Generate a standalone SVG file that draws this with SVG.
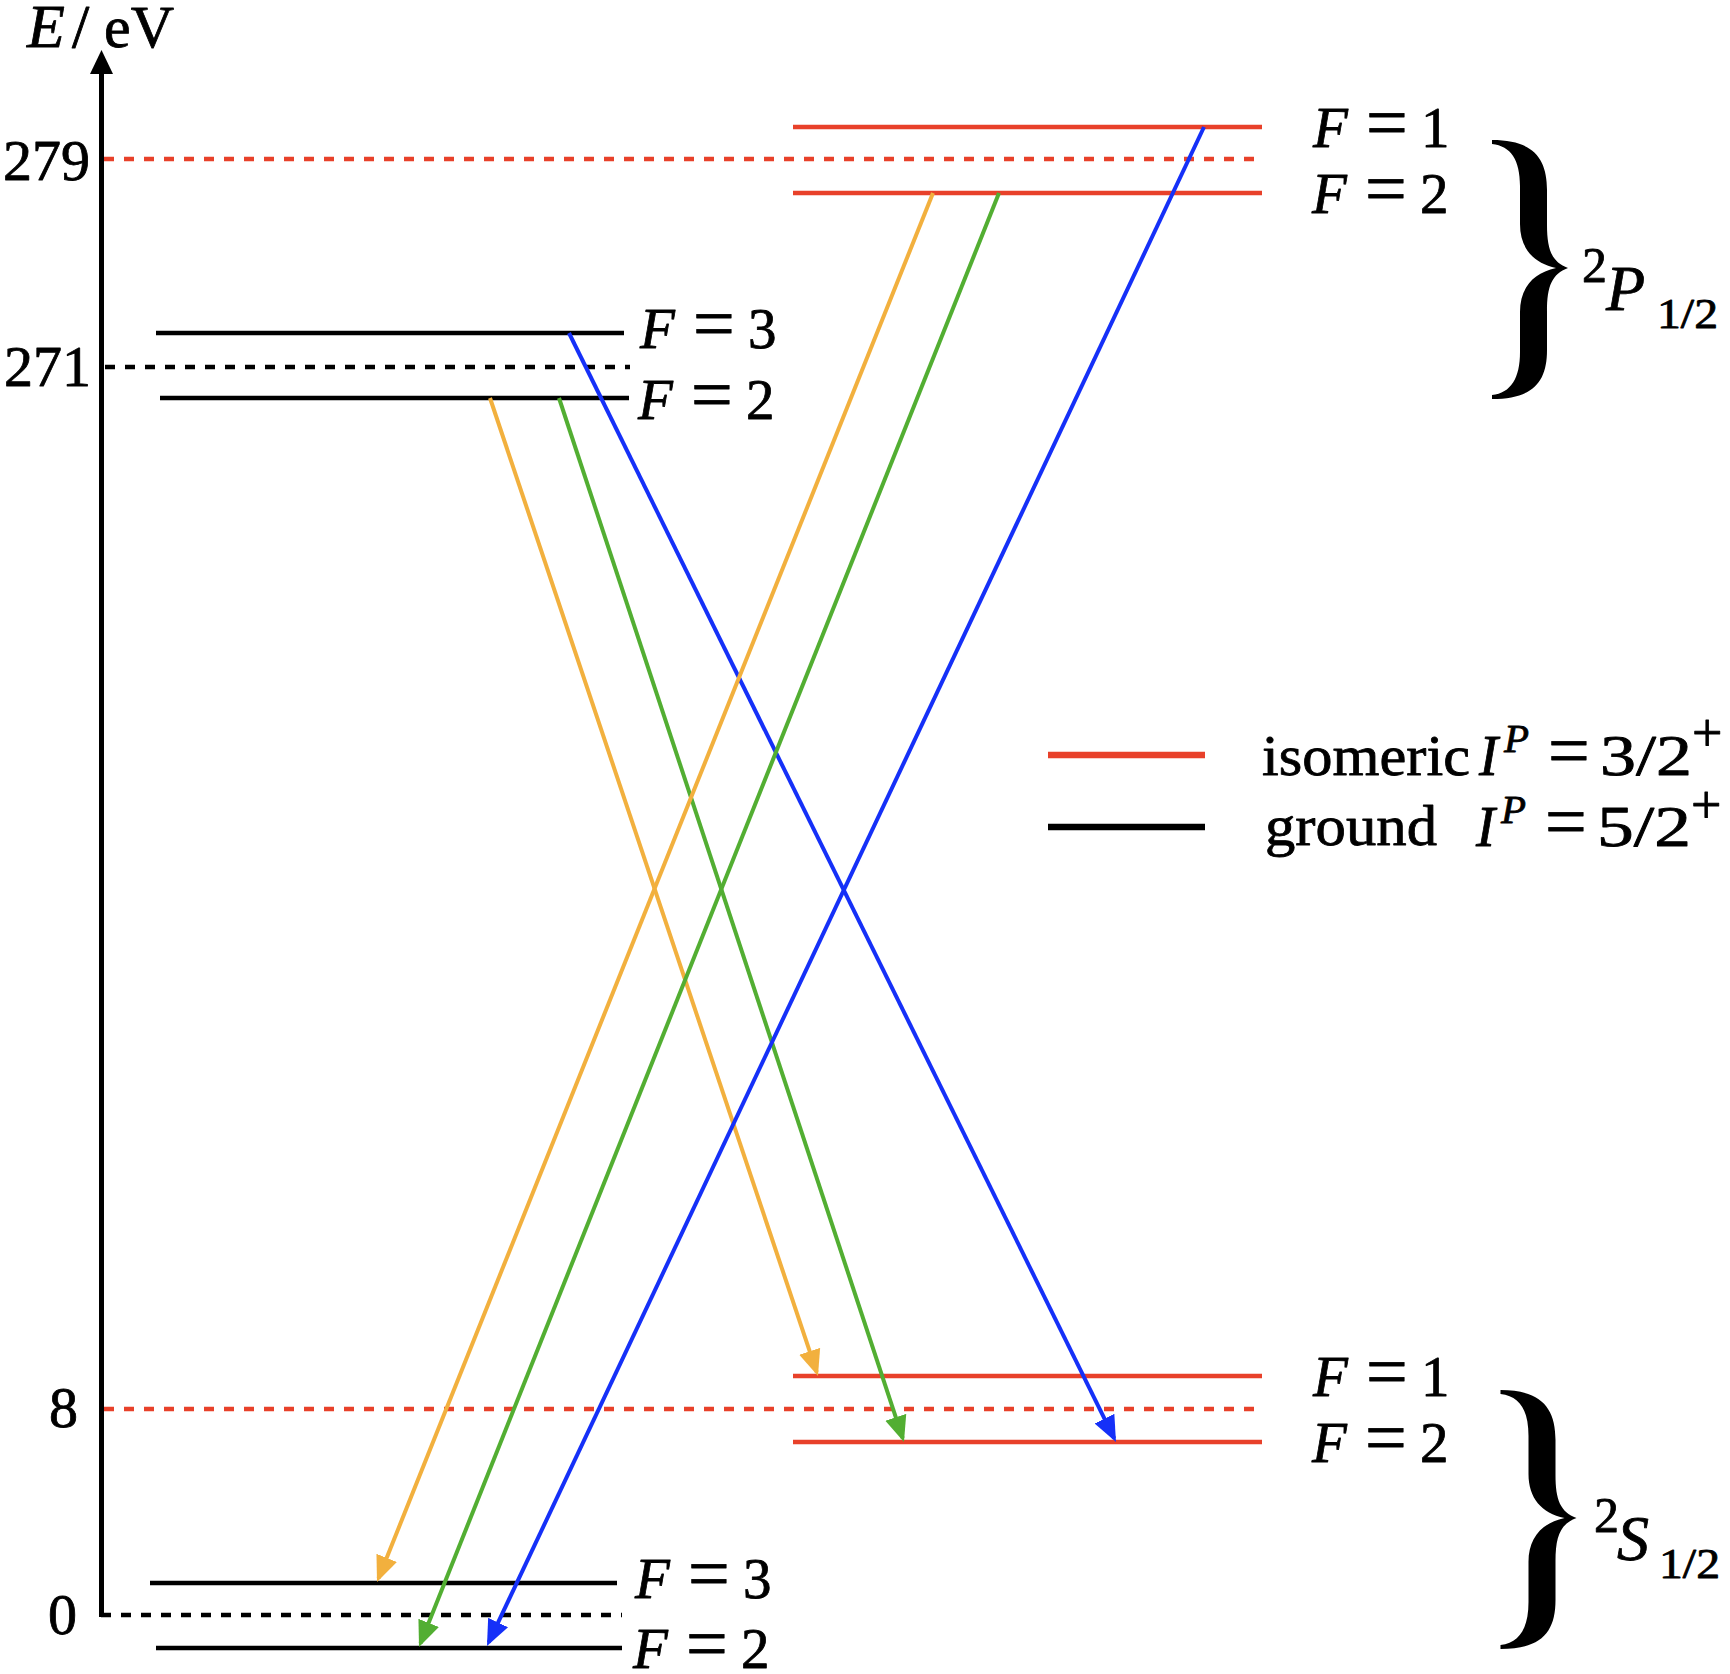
<svg xmlns="http://www.w3.org/2000/svg" width="1730" height="1674" viewBox="0 0 1730 1674">
<style>
.t { font-family: 'Liberation Serif', 'Times New Roman', serif; fill: #000; stroke: #000; stroke-width: 0.8; stroke-linejoin: round; }
.i { font-style: italic; }
.lab { font-size: 57px; }
.eq { font-size: 74px; }
.lk { stroke: #000; stroke-width: 4.5; fill: none; }
.lr { stroke: #E8412A; stroke-width: 4.5; fill: none; }
.dk { stroke: #000; stroke-width: 4.5; stroke-dasharray: 10 10; fill: none; }
.dr { stroke: #E8412A; stroke-width: 4.5; stroke-dasharray: 10 10; fill: none; }
.arr { stroke-width: 4; fill: none; }
.or { stroke: #F2B03E; }
.gr { stroke: #52AE32; }
.bl { stroke: #1530F8; }
</style>
<defs>
  <marker id="mOr" markerUnits="userSpaceOnUse" markerWidth="26" markerHeight="24" viewBox="0 0 26 24" refX="22" refY="12" orient="auto"><path d="M0,1 L26,12 L0,23 z" fill="#F2B03E"/></marker>
  <marker id="mGr" markerUnits="userSpaceOnUse" markerWidth="26" markerHeight="24" viewBox="0 0 26 24" refX="22" refY="12" orient="auto"><path d="M0,1 L26,12 L0,23 z" fill="#52AE32"/></marker>
  <marker id="mBl" markerUnits="userSpaceOnUse" markerWidth="26" markerHeight="24" viewBox="0 0 26 24" refX="22" refY="12" orient="auto"><path d="M0,1 L26,12 L0,23 z" fill="#1530F8"/></marker>
  <path id="brace" d="M1492,140 C1533,140 1547,158 1547,190 L1547,225 C1547,250 1552,262 1568,268 C1552,274 1547,286 1547,311 L1547,350 C1547,382 1533,399 1492,399 L1492,395 C1511,393 1520,378 1520,352 L1520,312 C1520,288 1533,273 1556,268 C1533,263 1520,248 1520,224 L1520,186 C1520,160 1511,146 1492,144 Z" fill="#000"/>
</defs>

<g id="axis">
  <line x1="101.5" y1="1617" x2="101.5" y2="70" stroke="#000" stroke-width="5"/>
  <polygon points="90,74 101.5,50 113,74" fill="#000"/>
  <text class="t" x="27" y="47" font-size="62"><tspan class="i">E</tspan><tspan x="72">/</tspan><tspan x="104" font-size="60">eV</tspan></text>
  <text class="t" x="3" y="180" font-size="58">279</text>
  <text class="t" x="4" y="386" font-size="58">271</text>
  <text class="t" x="49" y="1427" font-size="58">8</text>
  <text class="t" x="48" y="1634" font-size="58">0</text>
</g>

<g id="reference-lines">
  <line class="dr" x1="104" y1="159" x2="1258" y2="159"/>
  <line class="dk" x1="105" y1="367" x2="630" y2="367"/>
  <line class="dr" x1="104" y1="1409" x2="1258" y2="1409"/>
  <line class="dk" x1="101" y1="1615" x2="622" y2="1615"/>
</g>

<g id="iso-P-F1">
  <line class="lr" x1="793" y1="127" x2="1262" y2="127"/>
  <text class="t lab" x="1313" y="147"><tspan class="i">F</tspan><tspan class="eq" x="1366">=</tspan><tspan x="1421">1</tspan></text>
</g>
<g id="iso-P-F2">
  <line class="lr" x1="793" y1="193" x2="1262" y2="193"/>
  <text class="t lab" x="1312" y="213"><tspan class="i">F</tspan><tspan class="eq" x="1365">=</tspan><tspan x="1420">2</tspan></text>
</g>
<g id="gnd-P-F3">
  <line class="lk" x1="156" y1="333" x2="624" y2="333"/>
  <text class="t lab" x="640" y="348"><tspan class="i">F</tspan><tspan class="eq" x="693">=</tspan><tspan x="748">3</tspan></text>
</g>
<g id="gnd-P-F2">
  <line class="lk" x1="160" y1="398" x2="629" y2="398"/>
  <text class="t lab" x="638" y="419"><tspan class="i">F</tspan><tspan class="eq" x="691">=</tspan><tspan x="746">2</tspan></text>
</g>
<g id="iso-S-F1">
  <line class="lr" x1="793" y1="1376" x2="1262" y2="1376"/>
  <text class="t lab" x="1313" y="1396"><tspan class="i">F</tspan><tspan class="eq" x="1366">=</tspan><tspan x="1421">1</tspan></text>
</g>
<g id="iso-S-F2">
  <line class="lr" x1="793" y1="1442" x2="1262" y2="1442"/>
  <text class="t lab" x="1312" y="1462"><tspan class="i">F</tspan><tspan class="eq" x="1365">=</tspan><tspan x="1420">2</tspan></text>
</g>
<g id="gnd-S-F3">
  <line class="lk" x1="150" y1="1583" x2="617" y2="1583"/>
  <text class="t lab" x="635" y="1598"><tspan class="i">F</tspan><tspan class="eq" x="688">=</tspan><tspan x="743">3</tspan></text>
</g>
<g id="gnd-S-F2">
  <line class="lk" x1="156" y1="1648" x2="622" y2="1648"/>
  <text class="t lab" x="633" y="1668"><tspan class="i">F</tspan><tspan class="eq" x="686">=</tspan><tspan x="741">2</tspan></text>
</g>

<g id="term-P">
  <use href="#brace"/>
  <text class="t" x="1582" y="282" font-size="50">2</text>
  <text class="t i" x="1606" y="310" font-size="64">P</text>
  <text class="t" x="1657" y="328" font-size="42" textLength="61" lengthAdjust="spacingAndGlyphs">1/2</text>
</g>
<g id="term-S">
  <use href="#brace" transform="translate(8.5,1250)"/>
  <text class="t" x="1594" y="1532" font-size="50">2</text>
  <text class="t i" x="1617" y="1560" font-size="64">S</text>
  <text class="t" x="1659" y="1578" font-size="42" textLength="61" lengthAdjust="spacingAndGlyphs">1/2</text>
</g>

<g id="legend">
  <line x1="1048" y1="755" x2="1205" y2="755" stroke="#E8412A" stroke-width="6.5"/>
  <line x1="1048" y1="827" x2="1205" y2="827" stroke="#000" stroke-width="6.5"/>
  <text class="t" x="1262" y="775" font-size="57" textLength="208" lengthAdjust="spacingAndGlyphs">isomeric</text>
  <text class="t i" x="1479" y="775" font-size="57">I</text>
  <text class="t i" x="1504" y="752" font-size="41">P</text>
  <text class="t eq" x="1548" y="775">=</text>
  <text class="t" x="1600" y="775" font-size="57" textLength="92" lengthAdjust="spacingAndGlyphs">3/2</text>
  <text class="t" x="1692" y="751" font-size="54">+</text>
  <text class="t" x="1265" y="845" font-size="57" textLength="172" lengthAdjust="spacingAndGlyphs">ground</text>
  <text class="t i" x="1476" y="846" font-size="57">I</text>
  <text class="t i" x="1501" y="823" font-size="41">P</text>
  <text class="t eq" x="1545" y="846">=</text>
  <text class="t" x="1597" y="846" font-size="57" textLength="94" lengthAdjust="spacingAndGlyphs">5/2</text>
  <text class="t" x="1691" y="823" font-size="54">+</text>
</g>

<g id="connectors">
  <line class="arr or" x1="490" y1="398" x2="816.7" y2="1372.2" marker-end="url(#mOr)"/>
  <line class="arr gr" x1="559" y1="398" x2="902.7" y2="1438.2" marker-end="url(#mGr)"/>
  <line class="arr bl" x1="569" y1="333" x2="1114.2" y2="1438.4" marker-end="url(#mBl)"/>
  <line class="arr or" x1="933" y1="193" x2="378.5" y2="1578.3" marker-end="url(#mOr)"/>
  <line class="arr gr" x1="999" y1="193" x2="420.5" y2="1643.3" marker-end="url(#mGr)"/>
  <line class="arr bl" x1="1204" y1="127" x2="488.7" y2="1642.4" marker-end="url(#mBl)"/>
</g>
</svg>
